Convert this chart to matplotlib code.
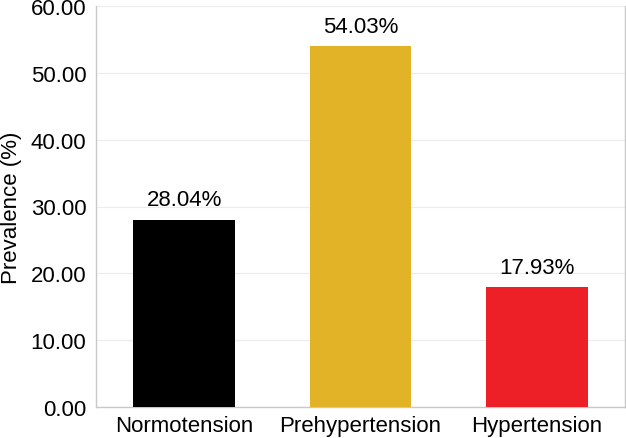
import numpy as np
import matplotlib
matplotlib.use("Agg")
import matplotlib.pyplot as plt

plt.rcParams['font.family'] = ['Liberation Sans', 'DejaVu Sans']

# Daten
categories = ['Normotension', 'Prehypertension', 'Hypertension']
prevalence = [28.04, 54.03, 17.93]
bar_colors = ['#000000', '#E2B227', '#EE2027']
yticks = [0, 10, 20, 30, 40, 50, 60]

fs = 16

fig = plt.figure(figsize=(6.26, 4.39), dpi=100)
ax = fig.add_axes([96 / 626, 31 / 439, 529 / 626, 401 / 439])

x = np.arange(len(categories))
bars = ax.bar(x, prevalence, width=0.575, color=bar_colors, zorder=3)

for b, v in zip(bars, prevalence):
    ax.text(b.get_x() + b.get_width() / 2, v + 1.4, f'{v:.2f}%',
            ha='center', va='bottom', fontsize=fs)

ax.set_xlim(-0.5, 2.5)
ax.set_ylim(0, 60)
ax.set_yticks(yticks)
ax.set_yticklabels([f'{t:.2f}' for t in yticks], fontsize=fs)
ax.set_xticks(x)
ax.set_xticklabels(categories, fontsize=fs)
ax.set_ylabel('Prevalence (%)', fontsize=fs, labelpad=6)

ax.yaxis.grid(True, color='#ececec', linewidth=0.8, zorder=0)
ax.tick_params(axis='y', length=0, pad=7)
ax.tick_params(axis='x', length=0, pad=6)
for s in ['left', 'right', 'bottom']:
    ax.spines[s].set_color('#c8c8c8')
    ax.spines[s].set_linewidth(1.0)
ax.spines['top'].set_visible(False)

fig.savefig('out.png', dpi=100)
